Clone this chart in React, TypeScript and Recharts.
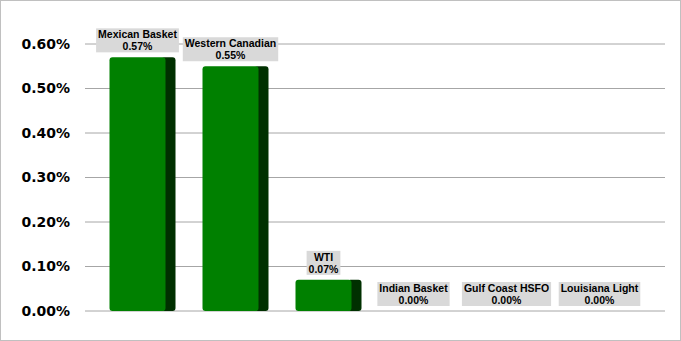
import { BarChart, Bar, XAxis, YAxis, CartesianGrid, LabelList } from "recharts";

const crudes = ["Mexican Basket", "Western Canadian", "WTI", "Indian Basket", "Gulf Coast HSFO", "Louisiana Light"];
const changes = [0.0057, 0.0055, 0.0007, 0, 0, 0];
const yTicks = [0, 0.001, 0.002, 0.003, 0.004, 0.005, 0.006];

const data = crudes.map((name, i) => ({ name, value: changes[i] }));

const pct = (v: number) => (v * 100).toFixed(2) + "%";

const LABEL_FONT = "bold 10.5px 'Liberation Sans', Arial, sans-serif";
let ctx: CanvasRenderingContext2D | null = null;
function textWidth(s: string) {
  if (!ctx) ctx = document.createElement("canvas").getContext("2d");
  if (!ctx) return s.length * 6;
  ctx.font = LABEL_FONT;
  return ctx.measureText(s).width;
}

function Bar3D(props: any) {
  const { x, y, width, height } = props;
  if (!height || height <= 0) return null;
  const front = (width * 56) / 66;
  const side = width - front;
  return (
    <g>
      <rect x={x + front - 4} y={y} width={side + 4} height={height} rx={3} fill="#003000" />
      <rect x={x} y={y} width={front} height={height} rx={3} fill="#008000" />
    </g>
  );
}

function BoxLabel(props: any) {
  const { x, y, width, index } = props;
  // empty bars get their label nudged a little left, as in the original
  const cx = x + (width * 56) / 66 / 2 - (changes[index] === 0 ? 3 : 0);
  const name = crudes[index];
  const val = pct(changes[index]);
  const w = Math.max(textWidth(name), textWidth(val)) + 4;
  const bottom = y - 5;
  const top = bottom - 24;
  return (
    <g>
      <rect x={cx - w / 2} y={top} width={w} height={24} fill="#d9d9d9" />
      <text x={cx} y={top + 10} textAnchor="middle" fontSize={10.5} fontWeight="bold" fontFamily="'Liberation Sans', Arial, sans-serif" fill="#000">
        {name}
      </text>
      <text x={cx} y={top + 22} textAnchor="middle" fontSize={10.5} fontWeight="bold" fontFamily="'Liberation Sans', Arial, sans-serif" fill="#000">
        {val}
      </text>
    </g>
  );
}

export default function App() {
  return (
    <div
      style={{
        position: "absolute",
        top: 0,
        left: 0,
        width: 681,
        height: 341,
        boxSizing: "border-box",
        border: "1px solid #c0c0c0",
        background: "#fff",
      }}
    >
      <BarChart width={679} height={339} data={data} margin={{ top: 43, right: 15, bottom: 29, left: 0 }}>
        <CartesianGrid vertical={false} stroke="#a6a6a6" strokeWidth={1} />
        <XAxis dataKey="name" hide padding={{ left: 10.5, right: 11.5 }} />
        <YAxis
          width={84}
          domain={[0, 0.006]}
          ticks={yTicks}
          tickFormatter={pct}
          axisLine={false}
          tickLine={false}
          tickMargin={9}
          tick={{ fill: "#000", fontSize: 14, fontWeight: "bold", fontFamily: "'DejaVu Sans', Tahoma, sans-serif" }}
        />
        <Bar dataKey="value" barSize={66} shape={<Bar3D />} isAnimationActive={false}>
          <LabelList dataKey="value" content={<BoxLabel />} />
        </Bar>
      </BarChart>
    </div>
  );
}
